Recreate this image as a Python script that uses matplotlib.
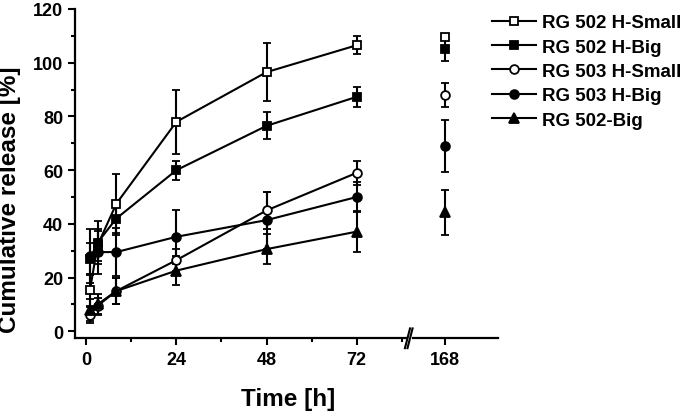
import matplotlib
matplotlib.use("Agg")
import matplotlib.pyplot as plt
from matplotlib.ticker import MultipleLocator

plt.rcParams['font.family'] = ['Liberation Sans', 'DejaVu Sans']
plt.rcParams['font.weight'] = 'bold'

# sampling times (h) and the separate 168 h point
time = [1, 3, 8, 24, 48, 72]
time_late = [168]

labels = ["RG 502 H-Small", "RG 502 H-Big", "RG 503 H-Small", "RG 503 H-Big", "RG 502-Big"]

# mean release [%] and SD
rg502h_small = [15.5, 32, 47.5, 78, 96.5, 106.5]
rg502h_small_sd = [6, 6, 11, 12, 10.8, 3.3]
rg502h_big = [27, 33, 42, 60, 76.5, 87.3]
rg502h_big_sd = [6, 8, 6, 3.5, 5, 3.6]
rg503h_small = [6, 9.5, 15, 26.5, 45, 59]
rg503h_small_sd = [3, 3, 5, 4, 7, 4.4]
rg503h_big = [28, 29.5, 29.5, 35.2, 41.4, 50]
rg503h_big_sd = [10, 8, 9, 10, 10.6, 5.5]
rg502_big = [8, 10, 15, 22.6, 30.6, 37.1]
rg502_big_sd = [4, 4, 5, 5.4, 5.6, 7.7]

late = [109.5, 105, 88, 69, 44.3]
late_sd = [1, 4.5, 4.3, 9.8, 8.4]

series = [rg502h_small, rg502h_big, rg503h_small, rg503h_big, rg502_big]
series_sd = [rg502h_small_sd, rg502h_big_sd, rg503h_small_sd, rg503h_big_sd, rg502_big_sd]
markers = ['s', 's', 'o', 'o', '^']
faces = ['white', 'black', 'white', 'black', 'black']

W, H = 685, 414
fig = plt.figure(figsize=(W / 100, H / 100), dpi=100)
bot = (H - 339.3) / H
hgt = 329.3 / H
ax1 = fig.add_axes([75 / W, bot, (407 - 75) / W, hgt])
ax2 = fig.add_axes([413 / W, bot, (498 - 413) / W, hgt], sharey=ax1)

handles = []
for i in range(5):
    kw = dict(marker=markers[i], mfc=faces[i], mec='black', mew=1.3,
              ms=7 if markers[i] == '^' else 6.3, color='black', lw=1.5,
              elinewidth=1.5, capsize=2.8, capthick=1.5, clip_on=False)
    h = ax1.errorbar(time, series[i], yerr=series_sd[i], **kw)
    ax2.errorbar(time_late, [late[i]], yerr=[late_sd[i]], **kw)
    handles.append(h[0])

ax1.set_xlim(-3, 85.4)
ax2.set_xlim(159.5, 182.1)
ax1.set_ylim(-2.6, 120)

ax1.set_xticks([0, 24, 48, 72])
ax1.xaxis.set_minor_locator(MultipleLocator(12))
ax1.set_yticks([0, 20, 40, 60, 80, 100, 120])
ax1.yaxis.set_minor_locator(MultipleLocator(10))
ax2.set_xticks([168])

for ax in (ax1, ax2):
    for s in ['top', 'right']:
        ax.spines[s].set_visible(False)
    for s in ['left', 'bottom']:
        ax.spines[s].set_linewidth(1.6)
    ax.tick_params(which='major', length=5, width=1.5, labelsize=13, direction='out')
    ax.tick_params(which='minor', length=3, width=1.5, direction='out')
    ax.tick_params(axis='x', pad=4.5)
    ax.tick_params(axis='y', pad=3.6)

ax2.spines['left'].set_visible(False)
ax2.tick_params(axis='y', which='both', left=False, labelleft=False)

# break marks
for x0 in (-0.035, -0.005):
    ax2.plot([x0 - 0.06, x0], [-0.03, 0.03], transform=ax2.transAxes,
             color='black', lw=1.5, clip_on=False)

fig.text(288 / W, 1 - 400 / H, "Time [h]", ha='center', va='center', fontsize=17.5, fontweight='bold')
fig.text(10 / W, 1 - 200 / H, "Cumulative release [%]", ha='center', va='center',
         rotation=90, fontsize=17.5, fontweight='bold')

fig.legend(handles, labels, loc='upper left', bbox_to_anchor=(492 / W, 1 - 15 / H),
           frameon=False, fontsize=13.5, handlelength=2.35, handletextpad=0.3,
           labelspacing=0.39, borderpad=0, borderaxespad=0)

fig.savefig("out.png", dpi=100)
